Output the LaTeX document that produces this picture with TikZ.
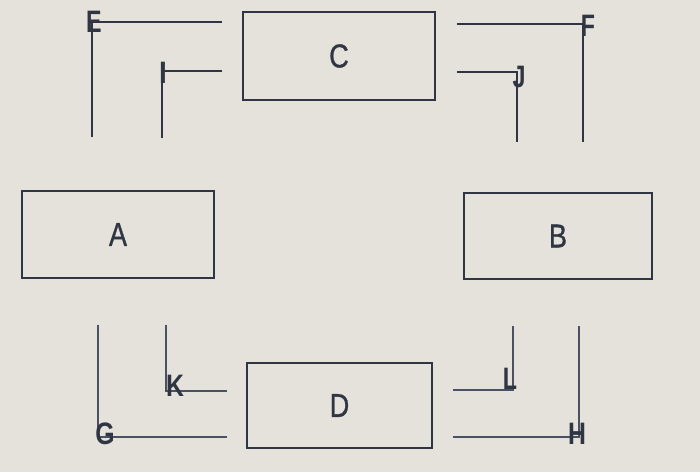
\documentclass[tikz,border=0pt]{standalone}
\usepackage{fontspec}
\setmainfont{Liberation Sans}
\newfontfamily\boxfont[FakeBold=1]{Liberation Sans}
\definecolor{bg}{HTML}{E4E2DA}
\definecolor{ink}{HTML}{2F3542}
\definecolor{inklight}{HTML}{4A5162}
\begin{document}
\begin{tikzpicture}[x=1pt,y=-1pt,
  boxnode/.style={draw=ink,line width=2.8pt,minimum width=#1,inner sep=0pt,font=\boxfont\fontsize{33}{33}\selectfont,text=ink},
  wire/.style={draw=ink,line width=2.6pt},
  wirelow/.style={draw=inklight,line width=2.3pt},
  cornerlab/.style={font=\bfseries\fontsize{31}{31}\selectfont,text=ink,inner sep=0pt}]
\fill[bg] (0,0) rectangle (700,472);
\useasboundingbox (0,0) rectangle (700,472);
% boxes
\node[boxnode=192pt,minimum height=87pt] (A) at (118,234.5) {\scalebox{0.82}[1]{A}};
\node[boxnode=188pt,minimum height=86pt] (B) at (558,236) {\scalebox{0.82}[1]{B}};
\node[boxnode=192pt,minimum height=88pt] (C) at (339,56) {\scalebox{0.82}[1]{C}};
\node[boxnode=185pt,minimum height=85pt] (D) at (339.5,405.5) {\scalebox{0.82}[1]{D}};
% free ends
\coordinate (e1) at (222,22);  \coordinate (e2) at (92,137);
\coordinate (i1) at (222,71);  \coordinate (i2) at (162,138);
\coordinate (f1) at (457,24);  \coordinate (f2) at (583,142);
\coordinate (j1) at (457,72);  \coordinate (j2) at (517,142);
\coordinate (g1) at (98,325);  \coordinate (g2) at (227,437);
\coordinate (k1) at (166,325); \coordinate (k2) at (227,391);
\coordinate (l1) at (513,326); \coordinate (l2) at (453,390);
\coordinate (h1) at (579,326); \coordinate (h2) at (453,437);
% L-shaped lines
\draw[wire] (e1) -| (e2);
\draw[wire] (i1) -| (i2);
\draw[wire] (f1) -| (f2);
\draw[wire] (j1) -| (j2);
\draw[wirelow] (g1) |- (g2);
\draw[wirelow] (k1) |- (k2);
\draw[wirelow] (l1) |- (l2);
\draw[wirelow] (h1) |- (h2);
% corner labels
\node[cornerlab] (E) at (94,22) {\scalebox{0.75}[1]{E}};
\node[cornerlab] (I) at (163,73) {\scalebox{0.9}[1]{I}};
\node[cornerlab] (F) at (588,26) {\scalebox{0.75}[1]{F}};
\node[cornerlab] (J) at (519,77) {\scalebox{0.75}[1]{J}};
\node[cornerlab] (G) at (105,434) {\scalebox{0.8}[1]{G}};
\node[cornerlab] (K) at (175,386) {\scalebox{0.8}[1]{K}};
\node[cornerlab] (L) at (510,379) {\scalebox{0.75}[1]{L}};
\node[cornerlab] (H) at (577,434) {\scalebox{0.8}[1]{H}};
\end{tikzpicture}
\end{document}
